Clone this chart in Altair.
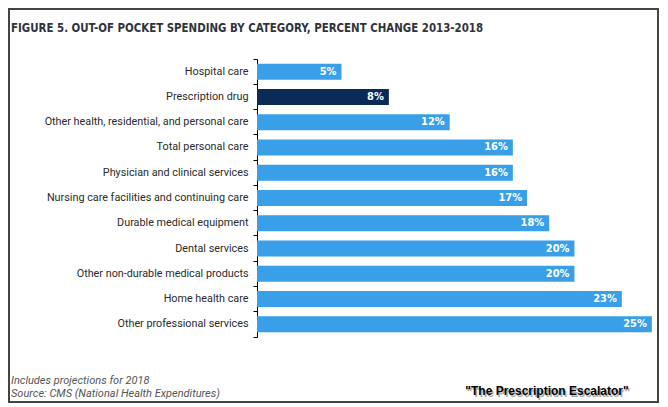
import altair as alt
import pandas as pd

categories = [
    "Hospital care",
    "Prescription drug",
    "Other health, residential, and personal care",
    "Total personal care",
    "Physician and clinical services",
    "Nursing care facilities and continuing care",
    "Durable medical equipment",
    "Dental services",
    "Other non-durable medical products",
    "Home health care",
    "Other professional services",
]
values = [5.35, 8.35, 12.2, 16.2, 16.2, 17.1, 18.5, 20.1, 20.1, 23.1, 25.0]
labels = ["5%", "8%", "12%", "16%", "16%", "17%", "18%", "20%", "20%", "23%", "25%"]
highlight = "Prescription drug"

title_text = "FIGURE 5. OUT-OF POCKET SPENDING BY CATEGORY, PERCENT CHANGE 2013-2018"
note_lines = ["Includes projections for 2018", "Source: CMS (National Health Expenditures)"]
stamp_text = '"The Prescription Escalator"'

BLUE = "#399fe8"
NAVY = "#0b2a58"
COND = "DejaVu Sans Condensed, sans-serif"

df = pd.DataFrame({
    "category": categories,
    "value": values,
    "label": labels,
    "color": [NAVY if c == highlight else BLUE for c in categories],
})
dummy = pd.DataFrame({"d": [0]})

y_enc = alt.Y(
    "category:N",
    sort=categories,
    title=None,
    scale=alt.Scale(paddingInner=0, paddingOuter=0),
    axis=alt.Axis(
        labelFont="Roboto", labelFontSize=10.8, labelColor="#2a2a2a",
        domainColor="#000000", tickColor="#000000", tickSize=4,
        labelPadding=5, bandPosition=1, tickExtra=True, labelLimit=300,
    ),
)
x_enc = alt.X("value:Q", scale=alt.Scale(domain=[0, 25.2]), axis=None)

bars = alt.Chart(df).mark_bar(size=16).encode(
    x=x_enc, y=y_enc, color=alt.Color("color:N", scale=None)
)
bar_text = alt.Chart(df).mark_text(
    align="right", baseline="middle", dx=-5, color="white",
    font=COND, fontWeight="bold", fontSize=11,
).encode(x=x_enc, y=alt.Y("category:N", sort=categories), text="label:N")

frame = alt.Chart(dummy).mark_rect(
    fill=None, stroke="#444444", strokeWidth=2
).encode(x=alt.value(-248), x2=alt.value(401), y=alt.value(-50), y2=alt.value(343))

title = alt.Chart(dummy).mark_text(
    align="left", baseline="alphabetic", font=COND, fontWeight="bold",
    fontSize=11.4, color="#2f343a",
).encode(x=alt.value(-246), y=alt.value(-27), text=alt.value(title_text))

note1 = alt.Chart(dummy).mark_text(
    align="left", baseline="alphabetic", font="Roboto", fontStyle="italic",
    fontSize=11, color="#555555",
).encode(x=alt.value(-246), y=alt.value(325), text=alt.value(note_lines[0]))
note2 = alt.Chart(dummy).mark_text(
    align="left", baseline="alphabetic", font="Roboto", fontStyle="italic",
    fontSize=11, color="#555555",
).encode(x=alt.value(-246), y=alt.value(338), text=alt.value(note_lines[1]))

stamp_shadow = alt.Chart(dummy).mark_text(
    align="center", baseline="alphabetic", font="Liberation Sans, Arial, sans-serif",
    fontWeight="bold", fontSize=12, color="#aaaaaa",
).encode(x=alt.value(291.5), y=alt.value(337.5), text=alt.value(stamp_text))
stamp = alt.Chart(dummy).mark_text(
    align="center", baseline="alphabetic", font="Liberation Sans, Arial, sans-serif",
    fontWeight="bold", fontSize=12, color="#000000",
).encode(x=alt.value(290), y=alt.value(336), text=alt.value(stamp_text))

chart = alt.layer(
    bars, bar_text, frame, title, note1, note2, stamp_shadow, stamp
).properties(
    width=398, height=278,
    autosize=alt.AutoSizeParams(type="none"),
    padding={"left": 249, "top": 51, "right": 5, "bottom": 66},
).configure_view(stroke=None)

chart.save("out.html", embed_options={"renderer": "svg", "actions": False})
